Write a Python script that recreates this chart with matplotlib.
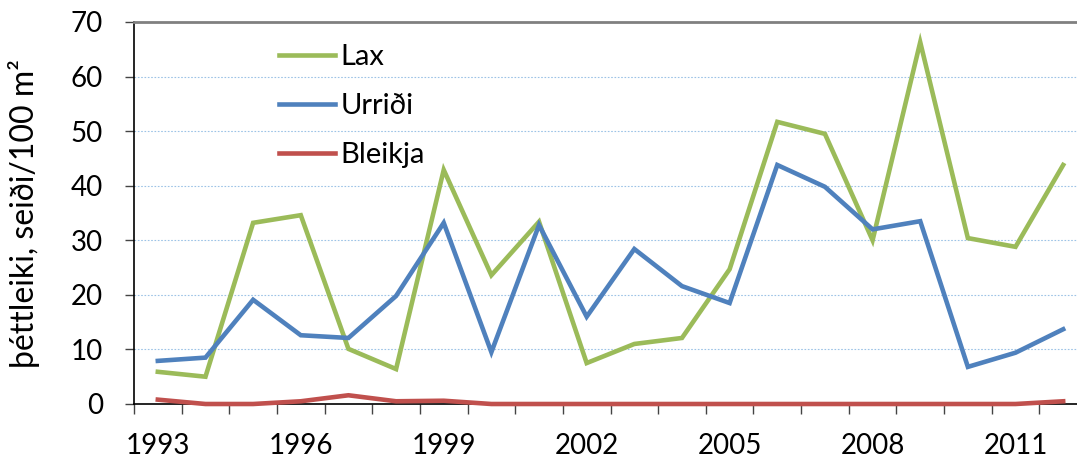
import matplotlib
matplotlib.use("Agg")
import matplotlib.pyplot as plt
import numpy as np

years = list(range(1993, 2013))
lax = [5.9, 5.0, 33.2, 34.6, 10.1, 6.4, 42.9, 23.6, 33.4, 7.5, 11.0, 12.1, 24.7, 51.7, 49.5, 30.0, 66.3, 30.4, 28.8, 43.8]
urridi = [7.9, 8.5, 19.1, 12.6, 12.1, 19.8, 33.2, 9.5, 32.8, 16.0, 28.4, 21.6, 18.5, 43.8, 39.8, 32.0, 33.5, 6.8, 9.4, 13.7]
bleikja = [0.8, 0.0, 0.0, 0.5, 1.6, 0.5, 0.6, 0.0, 0.0, 0.0, 0.0, 0.0, 0.0, 0.0, 0.0, 0.0, 0.0, 0.0, 0.0, 0.5]
series_names = ["Lax", "Urriði", "Bleikja"]
colors = ["#9BBB59", "#4F81BD", "#C0504D"]
xtick_labels = [1993, 1996, 1999, 2002, 2005, 2008, 2011]
yticks = [0, 10, 20, 30, 40, 50, 60, 70]

plt.rcParams['font.family'] = ['Lato', 'DejaVu Sans']

fig = plt.figure(figsize=(10.77, 4.59), dpi=100)
ax = fig.add_axes([134/1077, (459-404)/459, (1087-134)/1077, (404-22)/459])

for vals, name, c in zip([lax, urridi, bleikja], series_names, colors):
    ax.plot(years, vals, color=c, lw=3.3, label=name, solid_joinstyle='miter', clip_on=False, zorder=3)

ax.set_xlim(1992.5, 2012.5)
ax.set_ylim(0, 70)
ax.set_yticks(yticks)
ax.set_xticks(xtick_labels)
ax.set_xticks(np.arange(1992.5, 2013, 1), minor=True)
ax.tick_params(axis='x', which='major', length=0, labelsize=20, pad=21)
ax.tick_params(axis='x', which='minor', length=7, width=1, color='#444444', direction='out')
ax.tick_params(axis='y', length=6.5, width=1, color='#444444', labelsize=20, pad=16)

for y in yticks[1:-1]:
    ax.axhline(y, color='#9DC3E6', lw=0.8, ls=(0, (1.5, 1.5)), zorder=1)

ax.spines['right'].set_visible(False)
ax.spines['top'].set_color('#808080')
ax.spines['top'].set_linewidth(2)
ax.spines['left'].set_color('#000000')
ax.spines['bottom'].set_color('#000000')
ax.spines['left'].set_linewidth(1.2)
ax.spines['bottom'].set_linewidth(1.2)

ax.set_ylabel("þéttleiki, seiði/100 m²", fontsize=23, labelpad=22)

leg = ax.legend(loc='upper left', bbox_to_anchor=(0.125, 1.01), frameon=False, fontsize=21,
                handlelength=1.9, handletextpad=0.2, labelspacing=0.78)

fig.savefig("out.png", dpi=100)
